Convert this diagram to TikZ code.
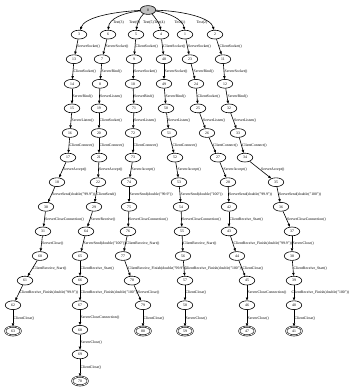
\documentclass[tikz,border=0pt]{standalone}
\usepackage{fontspec}
\setmainfont{Liberation Serif}
\usetikzlibrary{arrows.meta,shapes.geometric}
\newcommand\mkedge[3]{\draw[ed] (n#1) -- node[lbl]{#3} (n#2);}
\begin{document}
\begin{tikzpicture}[x=1pt,y=-1pt,
  st/.style={ellipse,draw,line width=0.6pt,minimum width=15.5pt,minimum height=8.8pt,inner sep=0pt,font=\fontsize{3.8}{4}\selectfont},
  fin/.style={st,double,double distance=0.7pt,line width=0.55pt},
  rt/.style={st,fill=black!25},
  ed/.style={-{Triangle[length=3pt,width=2.4pt]},line width=0.6pt},
  lbl/.style={anchor=west,inner sep=0.4pt,font=\fontsize{3.8}{4}\selectfont}]
\useasboundingbox (0,0) rectangle (350,389);
% root and tests
\node[rt] (n0) at (148,10) {0};
\node[st] (n3) at (79,34.6) {3};
\node[st] (n6) at (108,34.6) {6};
\node[st] (n5) at (136,34.6) {5};
\node[st] (n4) at (161,34.6) {4};
\node[st] (n1) at (185,34.6) {1};
\node[st] (n2) at (215,34.6) {2};
% column A
\node[st] (n13) at (74,59.2) {13};
\node[st] (n14) at (72,83.8) {14};
\node[st] (n15) at (72,108.4) {15};
\node[st] (n16) at (70,133) {16};
\node[st] (n17) at (68,157.6) {17};
\node[st] (n18) at (57,182.2) {18};
\node[st] (n30) at (46,206.8) {30};
\node[st] (n31) at (43,231.4) {31};
\node[st] (n60) at (40,256) {60};
\node[st] (n61) at (25,280.6) {61};
\node[st] (n62) at (13,305.2) {62};
\node[fin] (n63) at (13,331) {63};
% column B
\node[st] (n7) at (102,59.2) {7};
\node[st] (n8) at (100,83.8) {8};
\node[st] (n19) at (99,108.4) {19};
\node[st] (n20) at (99,133) {20};
\node[st] (n21) at (99,157.6) {21};
\node[st] (n22) at (98,182.2) {22};
\node[st] (n29) at (94,206.8) {29};
\node[st] (n64) at (86,231.4) {64};
\node[st] (n65) at (80,256) {65};
\node[st] (n66) at (80,280.6) {66};
\node[st] (n67) at (80,305.2) {67};
\node[st] (n68) at (80,329.8) {68};
\node[st] (n69) at (80,354.4) {69};
\node[fin] (n70) at (80,381) {70};
% column C
\node[st] (n9) at (134,59.2) {9};
\node[st] (n10) at (133,83.8) {10};
\node[st] (n71) at (134,108.4) {71};
\node[st] (n72) at (133,133) {72};
\node[st] (n73) at (133,157.6) {73};
\node[st] (n74) at (129,182.2) {74};
\node[st] (n75) at (129,206.8) {75};
\node[st] (n76) at (128,231.4) {76};
\node[st] (n77) at (123,256) {77};
\node[st] (n78) at (132,280.6) {78};
\node[st] (n79) at (143,305.2) {79};
\node[fin] (n80) at (143,331) {80};
% column D
\node[st] (n48) at (164,59.2) {48};
\node[st] (n49) at (164,83.8) {49};
\node[st] (n50) at (166,108.4) {50};
\node[st] (n51) at (169,133) {51};
\node[st] (n52) at (175,157.6) {52};
\node[st] (n53) at (179,182.2) {53};
\node[st] (n54) at (181,206.8) {54};
\node[st] (n55) at (182,231.4) {55};
\node[st] (n56) at (183,256) {56};
\node[st] (n57) at (185,280.6) {57};
\node[st] (n58) at (185,305.2) {58};
\node[fin] (n59) at (185,331) {59};
% column E
\node[st] (n23) at (190,59.2) {23};
\node[st] (n24) at (196,83.8) {24};
\node[st] (n25) at (198,108.4) {25};
\node[st] (n26) at (207,133) {26};
\node[st] (n27) at (218,157.6) {27};
\node[st] (n28) at (228,182.2) {28};
\node[st] (n42) at (229,206.8) {42};
\node[st] (n43) at (229,231.4) {43};
\node[st] (n44) at (237,256) {44};
\node[st] (n45) at (247,280.6) {45};
\node[st] (n46) at (247,305.2) {46};
\node[fin] (n47) at (247,331) {47};
% column F
\node[st] (n11) at (223,59.2) {11};
\node[st] (n12) at (225,83.8) {12};
\node[st] (n32) at (229,108.4) {32};
\node[st] (n33) at (238,133) {33};
\node[st] (n34) at (245,157.6) {34};
\node[st] (n35) at (276,182.2) {35};
\node[st] (n36) at (281,206.8) {36};
\node[st] (n37) at (292,231.4) {37};
\node[st] (n38) at (292,256) {38};
\node[st] (n39) at (294,280.6) {39};
\node[st] (n40) at (294,305.2) {40};
\node[fin] (n41) at (294,331) {41};
% root edges
\draw[ed] (n0) .. controls (110,12) and (84,18) .. (n3);
\draw[ed] (n0) .. controls (122,13) and (109,19) .. (n6);
\draw[ed] (n0) .. controls (140,17) and (137,24) .. (n5);
\draw[ed] (n0) .. controls (154,16) and (160,24) .. (n4);
\draw[ed] (n0) .. controls (170,13) and (183,20) .. (n1);
\draw[ed] (n0) .. controls (184,11) and (211,18) .. (n2);
\node[lbl] (lt3) at (112.5,23) {Test(3)};
\node[lbl] (lt6) at (128.5,23) {Test(6)};
\node[lbl] (lt5) at (142.5,23) {Test(5)};
\node[lbl] (lt4) at (153.5,23) {Test(4)};
\node[lbl] (lt1) at (174,23) {Test(1)};
\node[lbl] (lt2) at (196,23) {Test(2)};
% column A edges
\mkedge{3}{13}{ServerSocket()}
\mkedge{13}{14}{ClientSocket()}
\mkedge{14}{15}{ServerBind()}
\mkedge{15}{16}{ServerListen()}
\mkedge{16}{17}{ClientConnect()}
\mkedge{17}{18}{ServerAccept()}
\mkedge{18}{30}{ServerSend(double("99.9"))}
\mkedge{30}{31}{ServerCloseConnection()}
\mkedge{31}{60}{ServerClose()}
\mkedge{60}{61}{ClientReceive\_Start()}
\mkedge{61}{62}{ClientReceive\_Finish(double("99.9"))}
\mkedge{62}{63}{ClientClose()}
% column B edges
\mkedge{6}{7}{ServerSocket()}
\mkedge{7}{8}{ServerBind()}
\mkedge{8}{19}{ServerListen()}
\mkedge{19}{20}{ClientSocket()}
\mkedge{20}{21}{ClientConnect()}
\mkedge{21}{22}{ServerAccept()}
\mkedge{22}{29}{ClientSend()}
\mkedge{29}{64}{ServerReceive()}
\mkedge{64}{65}{ServerSend(double("100"))}
\mkedge{65}{66}{ClientReceive\_Start()}
\mkedge{66}{67}{ClientReceive\_Finish(double("100"))}
\mkedge{67}{68}{ServerCloseConnection()}
\mkedge{68}{69}{ServerClose()}
\mkedge{69}{70}{ClientClose()}
% column C edges
\mkedge{5}{9}{ClientSocket()}
\mkedge{9}{10}{ServerSocket()}
\mkedge{10}{71}{ServerBind()}
\mkedge{71}{72}{ServerListen()}
\mkedge{72}{73}{ClientConnect()}
\mkedge{73}{74}{ServerAccept()}
\mkedge{74}{75}{ServerSend(double("99.9"))}
\mkedge{75}{76}{ServerCloseConnection()}
\mkedge{76}{77}{ClientReceive\_Start()}
\mkedge{77}{78}{ClientReceive\_Finish(double("99.9"))}
\mkedge{78}{79}{ServerClose()}
\mkedge{79}{80}{ClientClose()}
% column D edges
\mkedge{4}{48}{ClientSocket()}
\mkedge{48}{49}{ServerSocket()}
\mkedge{49}{50}{ServerBind()}
\mkedge{50}{51}{ServerListen()}
\mkedge{51}{52}{ClientConnect()}
\mkedge{52}{53}{ServerAccept()}
\mkedge{53}{54}{ServerSend(double("100"))}
\mkedge{54}{55}{ServerCloseConnection()}
\mkedge{55}{56}{ClientReceive\_Start()}
\mkedge{56}{57}{ClientReceive\_Finish(double("100"))}
\mkedge{57}{58}{ClientClose()}
\mkedge{58}{59}{ServerClose()}
% column E edges
\mkedge{1}{23}{ServerSocket()}
\mkedge{23}{24}{ServerBind()}
\mkedge{24}{25}{ClientSocket()}
\mkedge{25}{26}{ServerListen()}
\mkedge{26}{27}{ClientConnect()}
\mkedge{27}{28}{ServerAccept()}
\mkedge{28}{42}{ServerSend(double("99.9"))}
\mkedge{42}{43}{ClientReceive\_Start()}
\mkedge{43}{44}{ClientReceive\_Finish(double("99.9"))}
\mkedge{44}{45}{ClientClose()}
\mkedge{45}{46}{ServerCloseConnection()}
\mkedge{46}{47}{ServerClose()}
% column F edges
\mkedge{2}{11}{ClientSocket()}
\mkedge{11}{12}{ServerSocket()}
\mkedge{12}{32}{ServerBind()}
\mkedge{32}{33}{ServerListen()}
\mkedge{33}{34}{ClientConnect()}
\mkedge{34}{35}{ServerAccept()}
\mkedge{35}{36}{ServerSend(double("100"))}
\mkedge{36}{37}{ServerCloseConnection()}
\mkedge{37}{38}{ServerClose()}
\mkedge{38}{39}{ClientReceive\_Start()}
\draw[ed] (n39) -- node[lbl,xshift=-3pt]{ClientReceive\_Finish(double("100"))} (n40);
\mkedge{40}{41}{ClientClose()}
\end{tikzpicture}
\end{document}
